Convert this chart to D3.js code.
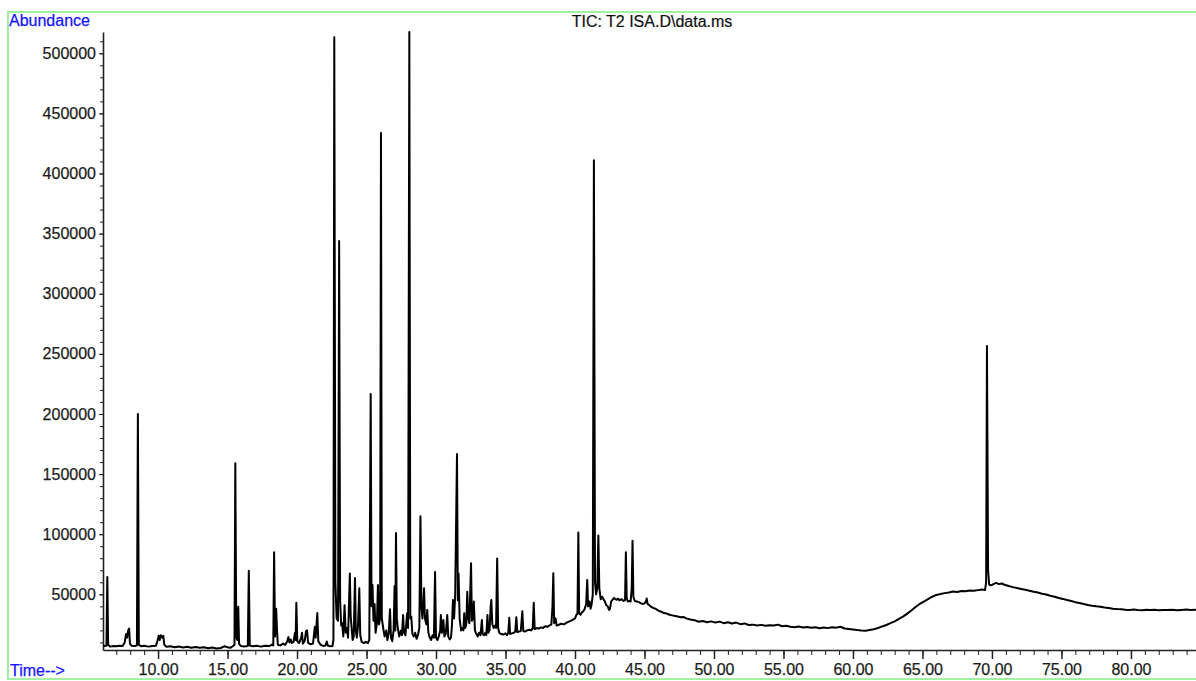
<!DOCTYPE html>
<html>
<head>
<meta charset="utf-8">
<script src="https://cdn.jsdelivr.net/npm/d3@7/dist/d3.min.js"></script>
<style>
  html, body { margin: 0; padding: 0; background: #ffffff; }
  svg { display: block; }
  text { font-family: "Liberation Sans", Arial, sans-serif; }
</style>
</head>
<body>
<svg id="chart" width="1196" height="681"></svg>
<script>
// Total ion chromatogram: [retention time (min), abundance]
const traceStart = [
  [6.04, 7500], [6.15, 7000], [6.29, 7200], [6.35, 64500], [6.41, 8000], [6.55, 6500],
  [6.8, 7000], [7.0, 6800], [7.2, 7200], [7.45, 7000], [7.6, 10000], [7.7, 17000],
  [7.78, 14000], [7.85, 20000], [7.92, 21500], [7.98, 9000], [8.1, 7200], [8.3, 7000],
  [8.48, 7500], [8.55, 200000], [8.62, 8000], [8.8, 6800], [9.0, 7200], [9.3, 6500],
  [9.6, 7000], [9.85, 7300], [9.95, 11000], [10.05, 15500], [10.12, 12000], [10.2, 16000],
  [10.3, 14000], [10.38, 15500], [10.45, 8000], [10.6, 6500], [10.9, 6800], [11.2, 6000],
  [11.5, 6600], [11.8, 5800], [12.1, 6400], [12.4, 5500], [12.7, 6200], [13.0, 5600],
  [13.3, 6000], [13.6, 5200], [13.9, 5800], [14.2, 5000], [14.5, 5400], [14.8, 6800],
  [15.0, 6000], [15.2, 5500], [15.4, 7000], [15.5, 8000], [15.56, 159000], [15.63, 14000],
  [15.71, 12000], [15.77, 39700], [15.83, 9000], [15.95, 7000], [16.2, 6600], [16.46, 7000],
  [16.53, 69600], [16.6, 7500], [16.8, 6800], [17.1, 7200], [17.4, 6500], [17.7, 7300],
  [18.0, 7000], [18.2, 8200], [18.29, 7500], [18.35, 85000], [18.42, 15000], [18.5, 38000],
  [18.56, 20000], [18.62, 8000], [18.8, 7500], [19.0, 9000], [19.15, 8000], [19.3, 11000],
  [19.38, 14500], [19.45, 10000], [19.55, 12500], [19.62, 9500], [19.75, 10500], [19.85, 18000],
  [19.9, 12000], [19.95, 43000], [20.02, 11000], [20.15, 9500], [20.3, 14000], [20.36, 18000],
  [20.42, 9000], [20.55, 11000], [20.65, 19500], [20.72, 20000], [20.8, 9500], [21.0, 8500],
  [21.15, 9000], [21.28, 23000], [21.34, 14000], [21.46, 34500], [21.53, 11000], [21.7, 8000],
  [21.9, 7000], [22.05, 7500], [22.14, 10800], [22.22, 7200], [22.4, 6800], [22.55, 7000]
];

const traceCluster = [
  [22.62, 12000], [22.68, 513400], [22.76, 60000], [22.85, 30000], [22.95, 28000], [23.03, 343800],
  [23.1, 45000], [23.18, 24000], [23.25, 26000], [23.33, 15000], [23.42, 41000], [23.5, 18000],
  [23.6, 22000], [23.67, 14000], [23.8, 67400], [23.86, 32000], [23.93, 22000], [24.0, 12000],
  [24.08, 15000], [24.17, 63500], [24.23, 20000], [24.3, 14000], [24.38, 22000], [24.48, 55000],
  [24.55, 16000], [24.65, 10500], [24.8, 9500], [24.95, 10500], [25.1, 9500], [25.2, 12000],
  [25.3, 216700], [25.36, 40000], [25.43, 57700], [25.5, 28000], [25.58, 42000], [25.65, 18000],
  [25.75, 26000], [25.82, 57700], [25.9, 25000], [25.98, 30000], [26.04, 433800], [26.1, 30000],
  [26.2, 22000], [26.3, 15000], [26.42, 20000], [26.5, 12000], [26.6, 18000], [26.69, 37500],
  [26.76, 14000], [26.85, 11000], [26.95, 20000], [27.02, 57000], [27.07, 20000], [27.12, 101000],
  [27.18, 30000], [27.25, 22000], [27.35, 15000], [27.48, 20000], [27.55, 16000], [27.63, 32800],
  [27.7, 18000], [27.8, 16000], [27.92, 34200], [27.99, 22000], [28.08, 517600], [28.15, 30000],
  [28.22, 31400], [28.3, 17000], [28.4, 15000], [28.5, 18000], [28.6, 13000], [28.7, 16000],
  [28.8, 22000], [28.88, 115000], [28.95, 40000], [29.02, 30000], [29.1, 45000], [29.14, 55000],
  [29.2, 30000], [29.3, 25000], [29.37, 37000], [29.45, 18000], [29.55, 14000], [29.65, 12000],
  [29.75, 16000], [29.85, 14000], [29.93, 68500], [30.0, 14000], [30.1, 12000], [30.2, 15000],
  [30.3, 20000], [30.35, 32800], [30.42, 18000], [30.53, 28600], [30.6, 15000], [30.7, 17000],
  [30.81, 32800], [30.88, 15000], [30.98, 12500], [31.08, 14000], [31.15, 25000], [31.22, 45300],
  [31.3, 30000], [31.38, 50000], [31.51, 166800], [31.57, 45000], [31.62, 67400], [31.7, 30000],
  [31.8, 20000], [31.9, 22000], [31.97, 20000], [32.03, 34200], [32.1, 22000], [32.18, 25000],
  [32.25, 52200], [32.32, 30000], [32.4, 26000], [32.52, 75800], [32.58, 28000], [32.65, 30000],
  [32.72, 44000], [32.8, 20000], [32.9, 17000], [33.0, 15000], [33.1, 18000], [33.2, 16000],
  [33.3, 28600], [33.36, 17000], [33.45, 16000], [33.55, 18000], [33.62, 16000], [33.7, 32800],
  [33.76, 18000], [33.85, 20000], [33.93, 40000], [33.98, 45300], [34.05, 25000], [34.15, 22000],
  [34.25, 24000], [34.32, 22000], [34.4, 79900], [34.47, 22000], [34.55, 18000], [34.7, 17000],
  [34.85, 16500], [35.0, 17500], [35.1, 16000], [35.2, 18000], [35.27, 30500], [35.33, 17000],
  [35.45, 17500], [35.6, 18000], [35.7, 19000], [35.78, 31000], [35.85, 18500], [35.95, 19000]
];

const traceHump = [
  [36.1, 19500], [36.21, 36000], [36.28, 19500], [36.4, 19000], [36.55, 20000], [36.7, 20500],
  [36.85, 20000], [36.96, 22000], [37.03, 43000], [37.1, 21000], [37.25, 22000], [37.4, 21500],
  [37.55, 22500], [37.7, 22000], [37.85, 23500], [38.0, 23000], [38.15, 24000], [38.3, 25000],
  [38.38, 40000], [38.44, 67500], [38.5, 26000], [38.6, 30000], [38.68, 24000], [38.8, 24500],
  [39.0, 25500], [39.2, 25000], [39.4, 26500], [39.6, 27500], [39.8, 28500], [40.0, 30000],
  [40.1, 33000], [40.18, 34000], [40.24, 101500], [40.3, 34000], [40.4, 33000], [40.5, 35000],
  [40.6, 36000], [40.7, 38000], [40.8, 42000], [40.88, 62000], [40.94, 40000], [41.05, 44000],
  [41.12, 38000], [41.2, 42000], [41.28, 50000], [41.36, 411000], [41.44, 60000], [41.52, 50000],
  [41.6, 55000], [41.68, 99000], [41.75, 55000], [41.85, 46000], [41.95, 48000], [42.05, 46000],
  [42.15, 44000], [42.25, 41000], [42.35, 40000], [42.45, 37000], [42.52, 38000], [42.6, 44000],
  [42.7, 45500], [42.8, 47000], [42.9, 46000], [43.0, 45500], [43.1, 46500], [43.2, 45000],
  [43.35, 46000], [43.5, 44500], [43.6, 45000], [43.66, 85000], [43.72, 47000], [43.8, 44000],
  [43.9, 44500], [44.0, 44000], [44.08, 55000], [44.14, 94500], [44.2, 48000], [44.3, 44500],
  [44.45, 44000], [44.6, 43500], [44.75, 42500], [44.9, 42000], [45.0, 42500], [45.1, 44000],
  [45.16, 46500], [45.22, 42000], [45.35, 41000], [45.5, 39500], [45.65, 38500], [45.8, 38000],
  [46.0, 36500], [46.2, 35500], [46.4, 34500], [46.6, 34000], [46.8, 33000], [47.0, 32500],
  [47.2, 32000], [47.4, 31500], [47.6, 31000]
];

const traceTail = [
  [47.8, 31200], [48.0, 30000], [48.3, 29000], [48.6, 28500], [48.9, 27200], [49.2, 27800],
  [49.5, 26800], [49.8, 27500], [50.1, 26500], [50.4, 27300], [50.7, 26000], [51.0, 26800],
  [51.3, 25800], [51.6, 26500], [51.9, 25200], [52.2, 25800], [52.5, 24500], [52.8, 24800],
  [53.1, 24000], [53.4, 24600], [53.7, 23800], [54.0, 24300], [54.3, 24000], [54.6, 24800],
  [54.9, 23500], [55.2, 23900], [55.5, 23000], [55.8, 22600], [56.1, 23200], [56.4, 22500],
  [56.7, 22900], [57.0, 22200], [57.3, 22600], [57.6, 21800], [57.9, 22400], [58.2, 21900],
  [58.5, 22700], [58.8, 22300], [59.1, 23000], [59.4, 21600], [59.7, 21200], [60.0, 20800],
  [60.3, 20300], [60.6, 20000], [60.9, 19800], [61.2, 20400], [61.5, 21000], [61.8, 22000],
  [62.1, 23300], [62.4, 24500], [62.7, 26000], [63.0, 27500], [63.3, 29500], [63.6, 31500],
  [63.9, 34000], [64.2, 36500], [64.5, 39500], [64.8, 42000], [65.1, 44000], [65.4, 46000],
  [65.7, 48000], [66.0, 49500], [66.3, 50200], [66.6, 51000], [66.9, 51500], [67.2, 52300],
  [67.5, 52000], [67.8, 52800], [68.1, 52500], [68.4, 53200], [68.7, 53000], [69.0, 53500],
  [69.3, 54000], [69.5, 53500], [69.58, 60000], [69.64, 256500], [69.72, 70000], [69.8, 58000],
  [69.95, 57500], [70.1, 58500], [70.3, 59500], [70.5, 58500], [70.7, 59000], [70.9, 58000],
  [71.2, 57000], [71.5, 56000], [71.8, 55200], [72.1, 54500], [72.4, 53800], [72.7, 53000],
  [73.0, 52200], [73.3, 51500], [73.6, 50500], [73.9, 49800], [74.2, 48800], [74.5, 48000],
  [74.8, 47000], [75.1, 46200], [75.4, 45300], [75.7, 44500], [76.0, 43500], [76.3, 42800],
  [76.6, 42000], [76.9, 41200], [77.2, 40500], [77.5, 40000], [77.8, 39600], [78.1, 39000],
  [78.4, 38600], [78.7, 38000], [79.0, 37700], [79.3, 37500], [79.6, 37200], [79.9, 37000],
  [80.2, 37300], [80.5, 37000], [80.8, 36800], [81.1, 37100], [81.4, 36900], [81.7, 37200],
  [82.0, 36800], [82.3, 37000], [82.6, 36900], [83.0, 37200], [83.3, 36800], [83.6, 37000],
  [84.0, 37300], [84.3, 37000], [84.68, 37200]
];

// Axis ticks
const yMajorTicks = [50000, 100000, 150000, 200000, 250000, 300000, 350000, 400000, 450000, 500000];
const yMinorTicks = d3.range(10000, 520000, 10000);
const xMajorTicks = [10, 15, 20, 25, 30, 35, 40, 45, 50, 55, 60, 65, 70, 75, 80];
const xMinorTicks = d3.range(7, 85, 1);

const titleText = "TIC: T2 ISA.D\\data.ms";
const yAxisTitle = "Abundance";
const xAxisTitle = "Time-->";

const trace = traceStart.concat(traceCluster, traceHump, traceTail);

const svg = d3.select("#chart");
const W = 1196, H = 681;

// plot area
const plot = { left: 103, right: 1196, top: 32, bottom: 650 };

const x = d3.scaleLinear().domain([6.04, 84.68]).range([plot.left, plot.right]);
const y = d3.scaleLinear().domain([3700, 517700]).range([plot.bottom, plot.top]);

// outer frame
svg.append("rect")
  .attr("x", 8).attr("y", 12)
  .attr("width", W + 20).attr("height", 667)
  .attr("fill", "none")
  .attr("stroke", "#a2f0a2")
  .attr("stroke-width", 2);

const labelStyle = g => g
  .attr("fill", "#1c1c1c")
  .attr("stroke", "#1c1c1c")
  .attr("stroke-width", 0.25)
  .style("font-size", "16px")
  .style("font-family", "'Liberation Sans', Arial, sans-serif");

// y axis: minor ticks then labelled major ticks
svg.append("g")
  .attr("transform", `translate(${plot.left},0)`)
  .call(d3.axisLeft(y).tickValues(yMinorTicks).tickSize(3).tickFormat(""))
  .call(g => g.select(".domain").remove())
  .call(g => g.selectAll("line").attr("stroke", "#222"));

svg.append("g")
  .attr("transform", `translate(${plot.left},0)`)
  .call(d3.axisLeft(y).tickValues(yMajorTicks).tickSize(4).tickSizeOuter(0).tickPadding(3).tickFormat(d3.format("d")))
  .call(g => g.select(".domain").attr("stroke", "#222").attr("stroke-width", 1.6))
  .call(g => g.selectAll("line").attr("stroke", "#222"))
  .call(g => labelStyle(g.selectAll("text")));

// x axis: minor ticks then labelled major ticks
svg.append("g")
  .attr("transform", `translate(0,${plot.bottom})`)
  .call(d3.axisBottom(x).tickValues(xMinorTicks).tickSize(5).tickFormat(""))
  .call(g => g.select(".domain").remove())
  .call(g => g.selectAll("line").attr("stroke", "#222"));

svg.append("g")
  .attr("transform", `translate(0,${plot.bottom})`)
  .call(d3.axisBottom(x).tickValues(xMajorTicks).tickSize(9).tickSizeOuter(0).tickPadding(5).tickFormat(d => d.toFixed(2)))
  .call(g => g.select(".domain").attr("stroke", "#222").attr("stroke-width", 1.6))
  .call(g => g.selectAll("line").attr("stroke", "#222").attr("stroke-width", 1.5))
  .call(g => labelStyle(g.selectAll("text")));

// chromatogram trace
const line = d3.line().x(d => x(d[0])).y(d => y(d[1]));
svg.append("path")
  .datum(trace)
  .attr("d", line)
  .attr("fill", "none")
  .attr("stroke", "#000")
  .attr("stroke-width", 2)
  .attr("stroke-linejoin", "round");

// titles
svg.append("text")
  .attr("x", 9).attr("y", 26)
  .attr("fill", "#1414ff")
  .attr("stroke", "#1414ff")
  .attr("stroke-width", 0.25)
  .style("font-size", "16px")
  .text(yAxisTitle);

svg.append("text")
  .attr("x", 10).attr("y", 676)
  .attr("fill", "#1414ff")
  .attr("stroke", "#1414ff")
  .attr("stroke-width", 0.25)
  .style("font-size", "16px")
  .text(xAxisTitle);

svg.append("text")
  .attr("x", 652).attr("y", 27)
  .attr("text-anchor", "middle")
  .attr("fill", "#111")
  .attr("stroke", "#111")
  .attr("stroke-width", 0.2)
  .style("font-size", "16px")
  .text(titleText);
</script>
</body>
</html>
